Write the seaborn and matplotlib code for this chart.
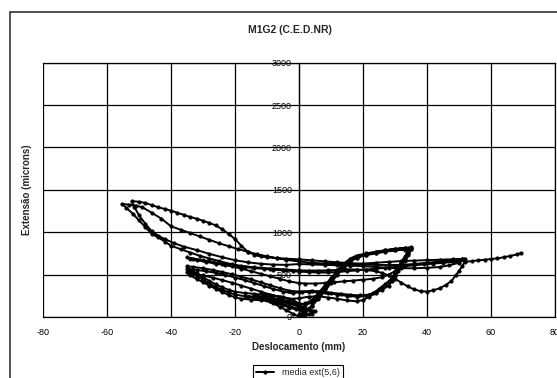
import seaborn as sns
import pandas as pd
import matplotlib.pyplot as plt
from matplotlib.patches import Rectangle

# pontos (deslocamento mm, extensão microns), por ciclo
ciclo_pequeno = [(0, 0), (1, 15), (2, 40), (1, 70), (-1, 90), (-3, 110), (-5, 140), (-7, 170), (-9, 190),
                 (-11, 210), (-13, 220), (-11, 225), (-9, 215), (-6, 190), (-3, 160), (0, 120), (2, 90),
                 (4, 60), (3, 30), (1, 10), (0, 5), (-2, 40), (-4, 80), (-6, 120), (-8, 160), (-10, 195),
                 (-12, 215), (-14, 230), (-16, 240), (-13, 245), (-10, 235), (-7, 215), (-4, 185),
                 (-1, 150), (1, 120), (3, 95), (5, 70), (4, 40), (2, 20), (0, 30)]

ciclo_35a = [(2, 60), (4, 130), (6, 230), (8, 340), (10, 450), (12, 550), (14, 630), (16, 690), (18, 725),
             (21, 750), (24, 770), (27, 790), (30, 805), (33, 815), (35, 822),
             (34, 770), (33, 710), (32, 640), (31, 580), (30, 520), (29, 460), (28, 410), (26, 350),
             (24, 290), (22, 240), (20, 200), (18, 185), (15, 195), (12, 215), (9, 230), (6, 245),
             (3, 240), (0, 220), (-3, 215),
             (-6, 235), (-9, 265), (-12, 300), (-15, 335), (-18, 370), (-21, 405), (-24, 435),
             (-27, 465), (-30, 490), (-33, 510), (-35, 525),
             (-34, 490), (-32, 450), (-30, 410), (-28, 370), (-26, 330), (-24, 295), (-22, 260),
             (-20, 232), (-18, 215), (-15, 205), (-12, 198), (-9, 190), (-6, 170), (-3, 130),
             (0, 90), (2, 70)]

ciclo_35b = [(4, 130), (6, 210), (8, 300), (10, 400), (12, 500), (14, 580), (16, 650), (18, 700),
             (21, 735), (24, 760), (27, 775), (30, 790), (33, 800), (35, 805),
             (34, 750), (33, 690), (32, 630), (31, 570), (30, 510), (29, 455), (27, 390), (25, 330),
             (23, 280), (21, 250), (18, 240), (15, 250), (12, 265), (9, 280), (6, 290), (3, 295),
             (0, 300), (-3, 310),
             (-6, 340), (-9, 375), (-12, 410), (-15, 445), (-18, 475), (-21, 505), (-24, 530),
             (-27, 555), (-30, 575), (-33, 590), (-35, 600),
             (-34, 560), (-32, 515), (-30, 470), (-28, 425), (-26, 385), (-24, 350), (-22, 320),
             (-20, 298), (-17, 283), (-14, 273), (-11, 263), (-8, 253), (-5, 238), (-2, 200),
             (0, 160), (2, 140)]

ciclo_35d = [(4, 170), (6, 240), (8, 330), (10, 430), (12, 520), (14, 600), (16, 660), (18, 700),
             (21, 730), (24, 750), (27, 770), (30, 785), (33, 795), (35, 800),
             (34, 730), (33, 660), (32, 600), (31, 540), (30, 480), (29, 420), (28, 370), (26, 320),
             (24, 285), (22, 265), (19, 255), (16, 262), (13, 275), (10, 285), (7, 300), (4, 310),
             (1, 300), (-2, 280),
             (-5, 300), (-8, 330), (-11, 365), (-14, 400), (-17, 435), (-20, 465), (-23, 495),
             (-26, 520), (-29, 540), (-32, 555), (-35, 565),
             (-34, 530), (-32, 485), (-30, 440), (-28, 395), (-26, 355), (-24, 320), (-22, 290),
             (-20, 265), (-17, 245), (-14, 235), (-11, 225), (-8, 215), (-5, 195), (-2, 170),
             (0, 150), (2, 160)]

ciclo_35c = [(4, 200), (6, 280), (8, 370), (10, 460), (12, 540), (14, 610), (16, 670), (18, 710),
             (21, 740), (24, 765), (27, 785), (30, 800), (33, 812), (35, 818),
             (34, 760), (33, 700), (32, 645), (31, 590), (30, 540), (28, 500), (26, 470), (23, 450),
             (20, 440), (17, 430), (14, 420), (11, 410), (8, 400), (5, 395), (2, 395), (0, 400),
             (-3, 420), (-6, 450), (-9, 480), (-12, 510), (-15, 540), (-18, 570), (-21, 600),
             (-24, 625), (-27, 650), (-30, 670), (-33, 690), (-35, 703),
             (-34, 690), (-32, 670), (-29, 650), (-26, 630), (-23, 612), (-20, 598), (-17, 588),
             (-14, 578), (-11, 568), (-8, 558), (-5, 550), (-2, 542), (0, 535)]

ciclo_52a = [(3, 530), (6, 525), (9, 525), (12, 530), (15, 540), (18, 550), (21, 560), (24, 570),
             (27, 580), (30, 590), (33, 600), (36, 610), (39, 620), (42, 630), (45, 640), (48, 650),
             (50, 660), (52, 665),
             (51, 600), (50, 545), (49, 490), (47.6, 426), (46, 380), (44, 340), (42, 315), (40, 300),
             (38, 305), (36, 325), (34, 360), (32, 405), (30, 450), (28, 490), (26, 520), (24, 540),
             (21, 555), (18, 560), (15, 560), (12, 555), (9, 550), (6, 548), (3, 548), (0, 550),
             (-4, 560), (-9, 572), (-14, 586), (-18, 603), (-21, 622), (-25, 660), (-28, 690),
             (-31, 722), (-34, 760), (-37, 800), (-40, 841), (-42, 890), (-44, 940), (-46, 979),
             (-48, 1060), (-50, 1140), (-52, 1220), (-54, 1290), (-55.4, 1334),
             (-53, 1325), (-51, 1315), (-49, 1295), (-46, 1230), (-43, 1160), (-40, 1070),
             (-37, 1030), (-34, 990), (-31, 950), (-28, 910), (-25, 870), (-22, 835), (-19, 800),
             (-16, 770), (-13, 740), (-10, 715), (-7, 695), (-4, 675), (0, 655),
             (4, 640), (8, 630), (12, 625), (16, 625), (20, 630), (24, 640), (28, 650), (32, 660),
             (36, 665), (40, 670), (44, 675), (48, 680), (51, 685), (52, 690)]

ciclo_52b = [(50, 640), (47, 610), (44, 590), (40, 580), (36, 575), (32, 575), (28, 580), (24, 590),
             (20, 600), (16, 605), (12, 610), (8, 615), (4, 620), (0, 625),
             (-4, 615), (-8, 618), (-12, 628), (-16, 645), (-20, 670), (-24, 705), (-28, 745),
             (-32, 790), (-36, 830), (-39, 870), (-42, 920), (-44, 960), (-46, 1010), (-48, 1100),
             (-50, 1200), (-51.5, 1300), (-52.3, 1366),
             (-50, 1360), (-48, 1345), (-46, 1320), (-44, 1295), (-42, 1275), (-40, 1255),
             (-38, 1230), (-36, 1205), (-34, 1180), (-32, 1160), (-30, 1135), (-28, 1110),
             (-26, 1080), (-24, 1035), (-22, 980), (-20, 920), (-18, 840), (-16, 770), (-14, 735),
             (-12, 715), (-10, 705), (-7, 695), (-4, 688), (0, 680), (4, 668), (8, 655), (12, 645),
             (16, 635), (20, 625), (24, 615), (28, 612), (32, 615), (36, 625), (40, 640), (44, 655),
             (48, 670), (51, 680), (52, 650)]

trecho_final = [(54, 660), (56, 668), (58, 676), (60, 684), (62, 692), (64, 705), (66, 720),
                (68, 738), (69.5, 755)]

x_ticks = [-80, -60, -40, -20, 0, 20, 40, 60, 80]
y_ticks = [0, 500, 1000, 1500, 2000, 2500, 3000]

pontos = (ciclo_pequeno + ciclo_35a + ciclo_35b + ciclo_35d + ciclo_35c + ciclo_52a + ciclo_52b
          + trecho_final)
df = pd.DataFrame(pontos, columns=['Deslocamento', 'Extensao'])

sns.set_style("white")
plt.rcParams['font.family'] = ['Liberation Sans', 'DejaVu Sans']
plt.rcParams['axes.unicode_minus'] = False

fig = plt.figure(figsize=(5.57, 3.78), dpi=100)
ax = fig.add_axes([43 / 557, 1 - 317 / 378, 512 / 557, (317 - 62.7) / 378])

sns.lineplot(data=df, x='Deslocamento', y='Extensao', sort=False, estimator=None,
             color='black', lw=1.4, marker='o', markersize=2.6,
             markeredgecolor='black', markeredgewidth=0.3,
             label='media ext(5,6)', ax=ax)

ax.set_xlim(-80, 80)
ax.set_ylim(0, 3000)
ax.set_xticks(x_ticks)
ax.set_yticks(y_ticks)
ax.grid(True, color='black', lw=0.9)
ax.set_axisbelow(True)
ax.spines['left'].set_position(('data', 0))
for s in ['left', 'bottom', 'top', 'right']:
    ax.spines[s].set_color('black')
    ax.spines[s].set_linewidth(0.9)
ax.tick_params(axis='y', direction='inout', length=4, labelsize=6.5, pad=3, colors='black')
ax.tick_params(axis='x', length=0, labelsize=6.5, pad=8, colors='black')
ax.set_xlabel('')
ax.set_ylabel('')

fig.text(0.52, 0.921, 'M1G2 (C.E.D.NR)', weight='bold', size=7.5, ha='center', va='center')
fig.text(299 / 557, 1 - 347 / 378, 'Deslocamento (mm)', weight='bold', size=7, ha='center', va='center')
fig.text(26.6 / 557, 0.497, 'Extensão (microns)', weight='bold', size=7, ha='center', va='center',
         rotation=90)

handles, labels = ax.get_legend_handles_labels()
ax.get_legend().remove()
leg = fig.legend(handles, labels, loc='upper center', bbox_to_anchor=(298 / 557, 1 - 360 / 378),
                 frameon=True, fancybox=False, edgecolor='black', fontsize=6.5,
                 handlelength=2, borderpad=0.35, framealpha=1)
leg.get_frame().set_linewidth(0.8)

fig.patches.append(Rectangle((10 / 557, -0.1), 1.2, 1 - 12 / 378 + 0.1, transform=fig.transFigure,
                             fill=False, ec='#333333', lw=1.2))

fig.savefig('out.png', dpi=100)
